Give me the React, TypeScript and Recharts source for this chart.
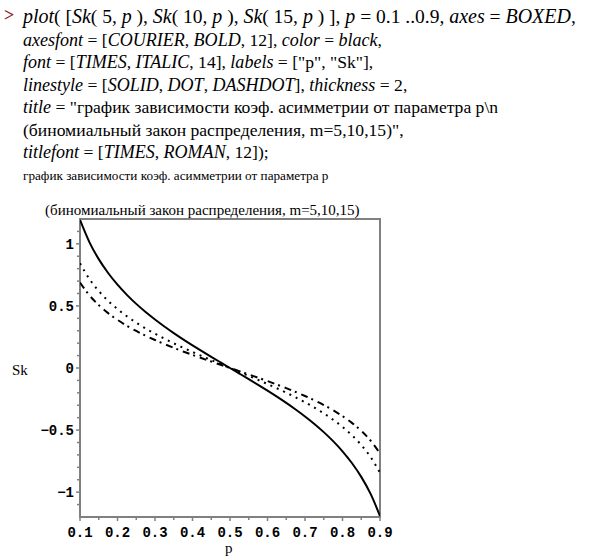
import React from 'react'
import { LineChart, Line, XAxis, YAxis, ReferenceArea } from 'recharts'

// p grid and skewness values (mirror-symmetric around p = 0.5)
const pValues = [
  0.1, 0.125, 0.15, 0.175, 0.2, 0.225, 0.25, 0.275, 0.3, 0.325, 0.35, 0.375, 0.4, 0.425, 0.45, 0.475,
  0.5, 0.525, 0.55, 0.575, 0.6, 0.625, 0.65, 0.675, 0.7, 0.725, 0.75, 0.775, 0.8, 0.825, 0.85, 0.875, 0.9
]

const sk5 = [
  1.1926, 1.0142, 0.8767, 0.7651, 0.6708, 0.589, 0.5164, 0.4507, 0.3904, 0.3342, 0.2813, 0.2309, 0.1826, 0.1357, 0.0899, 0.0448,
  0, -0.0448, -0.0899, -0.1357, -0.1826, -0.2309, -0.2813, -0.3342, -0.3904, -0.4507, -0.5164, -0.589, -0.6708, -0.7651, -0.8767, -1.0142, -1.1926
]

const sk10 = [
  0.8433, 0.7172, 0.6199, 0.541, 0.4743, 0.4165, 0.3651, 0.3187, 0.276, 0.2363, 0.1989, 0.1633, 0.1291, 0.0959, 0.0636, 0.0317,
  0, -0.0317, -0.0636, -0.0959, -0.1291, -0.1633, -0.1989, -0.2363, -0.276, -0.3187, -0.3651, -0.4165, -0.4743, -0.541, -0.6199, -0.7172, -0.8433
]

const sk15 = [
  0.6885, 0.5856, 0.5062, 0.4417, 0.3873, 0.3401, 0.2981, 0.2602, 0.2254, 0.193, 0.1624, 0.1333, 0.1054, 0.0783, 0.0519, 0.0258,
  0, -0.0258, -0.0519, -0.0783, -0.1054, -0.1333, -0.1624, -0.193, -0.2254, -0.2602, -0.2981, -0.3401, -0.3873, -0.4417, -0.5062, -0.5856, -0.6885
]

const xTicks = [0.1, 0.15, 0.2, 0.25, 0.3, 0.35, 0.4, 0.45, 0.5, 0.55, 0.6, 0.65, 0.7, 0.75, 0.8, 0.85, 0.9]
const yTicks = [-1.1, -1, -0.9, -0.8, -0.7, -0.6, -0.5, -0.4, -0.3, -0.2, -0.1, 0, 0.1, 0.2, 0.3, 0.4, 0.5, 0.6, 0.7, 0.8, 0.9, 1, 1.1]

const data = pValues.map((p, i) => ({ p, sk5: sk5[i], sk10: sk10[i], sk15: sk15[i] }))

const AXIS = '#808080'
const TICK_FONT = '"Liberation Mono", "DejaVu Sans Mono", monospace'

const isMultiple = (v: number, step: number) => Math.abs(v / step - Math.round(v / step)) < 1e-6
const fmt = (v: number) => (v < 0 ? '\u2212' + String(Math.abs(v)) : String(v))

function XTick(props: any) {
  const { x, y, payload } = props
  const v = payload.value
  const major = isMultiple(v, 0.1)
  return (
    <g>
      <line x1={x} y1={y} x2={x} y2={y + (major ? 4 : 3)} stroke={AXIS} strokeWidth={1.5} />
      {major && (
        <text x={x} y={y + 20} textAnchor="middle" fontFamily={TICK_FONT} fontWeight="bold" fontSize={14} fill="#000">
          {v.toFixed(1)}
        </text>
      )}
    </g>
  )
}

function YTick(props: any) {
  const { x, y, payload } = props
  const v = payload.value
  const major = isMultiple(v, 0.5)
  return (
    <g>
      <line x1={x} y1={y} x2={x - (major ? 4 : 3)} y2={y} stroke={AXIS} strokeWidth={1.5} />
      {major && (
        <text x={x - 6} y={y + 5} textAnchor="end" fontFamily={TICK_FONT} fontWeight="bold" fontSize={14} fill="#000">
          {fmt(v)}
        </text>
      )}
    </g>
  )
}

function I({ children }: { children: React.ReactNode }) {
  return <i style={{ fontSize: '1.025em' }}>{children}</i>
}

export default function App() {
  return (
    <div style={{ position: 'absolute', left: 0, top: 0, width: 592, height: 557, background: '#fff', fontFamily: '"Liberation Serif", "Times New Roman", serif', color: '#000' }}>
      {/* Maple input */}
      <div style={{ position: 'absolute', left: 4, top: 4, fontSize: 18, lineHeight: '23px', color: '#8b1a1a', fontWeight: 'bold' }}>&gt;</div>
      <div style={{ position: 'absolute', left: 23, top: 5, fontSize: 17.6, lineHeight: '22.5px', whiteSpace: 'pre' }}>
        <div style={{ fontSize: 19.5 }}><I>plot</I>( [<I>Sk</I>( 5, <I>p</I> ), <I>Sk</I>( 10, <I>p</I> ), <I>Sk</I>( 15, <I>p</I> ) ], <I>p</I> = 0.1 ..0.9, <I>axes</I> = <I>BOXED</I>,</div>
        <div><I>axesfont</I> = [<I>COURIER</I>, <I>BOLD</I>, 12], <I>color</I> = <I>black</I>,</div>
        <div><I>font</I> = [<I>TIMES</I>, <I>ITALIC</I>, 14], <I>labels</I> = ["p", "Sk"],</div>
        <div><I>linestyle</I> = [<I>SOLID</I>, <I>DOT</I>, <I>DASHDOT</I>], <I>thickness</I> = 2,</div>
        <div><I>title</I> = "график зависимости коэф. асимметрии от параметра p\n</div>
        <div>(биномиальный закон распределения, m=5,10,15)",</div>
        <div><I>titlefont</I> = [<I>TIMES</I>, <I>ROMAN</I>, 12]);</div>
      </div>

      {/* plot title, two lines */}
      <div style={{ position: 'absolute', left: 23, top: 168, fontSize: 13.2, lineHeight: '16px', whiteSpace: 'pre' }}>
        график зависимости коэф. асимметрии от параметра p
      </div>
      <div style={{ position: 'absolute', left: 45, top: 202, fontSize: 15, lineHeight: '17px', whiteSpace: 'pre' }}>
        (биномиальный закон распределения, m=5,10,15)
      </div>

      {/* axis labels */}
      <div style={{ position: 'absolute', left: 12, top: 362, fontSize: 15, lineHeight: '16px' }}>Sk</div>
      <div style={{ position: 'absolute', left: 225, top: 540, fontSize: 15, lineHeight: '16px' }}>p</div>

      <div style={{ position: 'absolute', left: 0, top: 0 }}>
        <LineChart width={592} height={557} data={data} margin={{ top: 219, right: 212, bottom: 10, left: 10 }}>
          <XAxis
            dataKey="p"
            type="number"
            domain={[0.1, 0.9]}
            ticks={xTicks}
            interval={0}
            height={30}
            axisLine={false}
            tickLine={false}
            tickSize={0}
            tickMargin={0}
            tick={<XTick />}
            allowDataOverflow
          />
          <YAxis
            type="number"
            domain={[-1.2, 1.2]}
            ticks={yTicks}
            interval={0}
            width={70}
            axisLine={false}
            tickLine={false}
            tickSize={0}
            tickMargin={0}
            tick={<YTick />}
            allowDataOverflow
          />
          <ReferenceArea x1={0.1} x2={0.9} y1={-1.2} y2={1.2} fill="none" fillOpacity={0} stroke={AXIS} strokeWidth={2} ifOverflow="visible" />
          <Line type="monotone" dataKey="sk5" stroke="#000" strokeWidth={2} dot={false} isAnimationActive={false} />
          <Line type="monotone" dataKey="sk10" stroke="#000" strokeWidth={2} strokeDasharray="2 5" dot={false} isAnimationActive={false} />
          <Line type="monotone" dataKey="sk15" stroke="#000" strokeWidth={2} strokeDasharray="7 4 2 5" dot={false} isAnimationActive={false} />
        </LineChart>
      </div>
    </div>
  )
}
